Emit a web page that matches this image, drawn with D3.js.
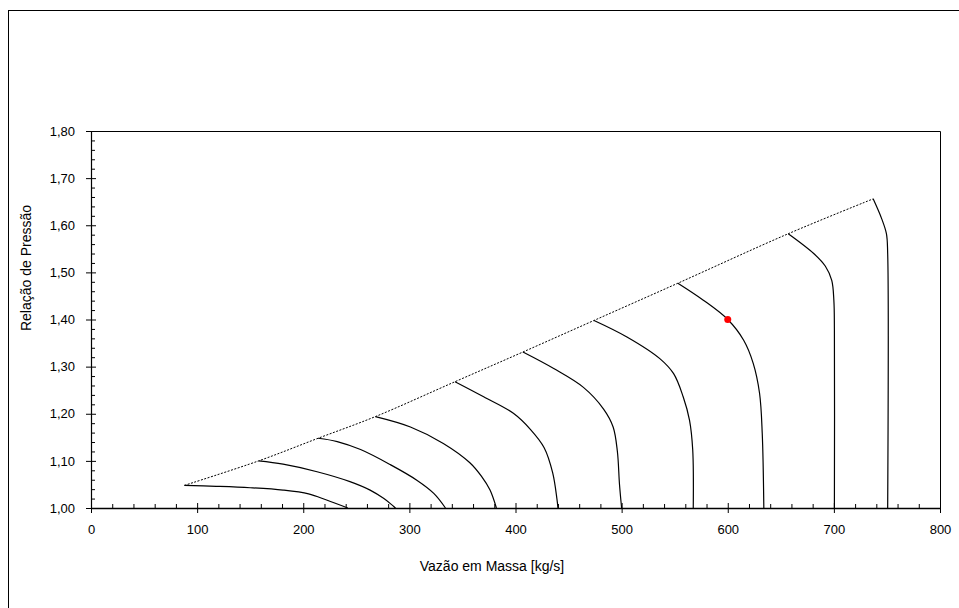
<!DOCTYPE html>
<html>
<head>
<meta charset="utf-8">
<script src="https://cdn.jsdelivr.net/npm/d3@7"></script>
<style>
  html, body { margin: 0; padding: 0; background: #fff; }
  svg { display: block; }
  text { font-family: "Liberation Sans", Arial, sans-serif; fill: #000; }
</style>
</head>
<body>
<svg id="chart" width="959" height="608"></svg>
<script>
// Compressor map: constant-speed lines (mass flow [kg/s] vs pressure ratio)
const speed1 = [[88,1.048],[118,1.046],[150,1.043],[181,1.038],[205,1.030],[222,1.017],[242,1.0]];
const speed2 = [[158,1.100],[181,1.093],[213,1.077],[244,1.056],[263,1.038],[276,1.020],[287,1.0]];
const speed3 = [[214,1.148],[232,1.141],[254,1.124],[282,1.092],[307,1.059],[323,1.031],[334,1.0]];
const speed4 = [[268,1.194],[301,1.172],[332,1.137],[357,1.096],[368,1.067],[376,1.038],[382,1.0]];
const speed5 = [[343,1.268],[370,1.236],[398,1.201],[414,1.167],[427,1.128],[435,1.075],[439,1.020],[440,1.0]];
const speed6 = [[407,1.331],[436,1.296],[464,1.256],[483,1.210],[492,1.172],[496,1.120],[498,1.050],[500,1.0]];
const speed7 = [[474,1.398],[505,1.363],[536,1.317],[549,1.285],[558,1.236],[564,1.186],[567,1.123],[567.5,1.0]];
const speed8 = [[553,1.477],[577,1.441],[600,1.400],[615,1.356],[624,1.307],[630,1.243],[632.5,1.158],[634,1.0]];
const speed9 = [[657,1.582],[681,1.540],[692,1.513],[698,1.483],[700,1.440],[700.5,1.377],[700.5,1.0]];
const speed10 = [[737,1.656],[745,1.614],[749.5,1.582],[750.7,1.540],[750.7,1.0]];
const speedLines = [speed1, speed2, speed3, speed4, speed5, speed6, speed7, speed8, speed9, speed10];

// Surge line joins the first point of every speed line
const surgeLine = speedLines.map(s => s[0]);

// Operating point
const operatingPoint = [[600, 1.40]];

const xTicks = [0, 100, 200, 300, 400, 500, 600, 700, 800];
const yTicks = [1.00, 1.10, 1.20, 1.30, 1.40, 1.50, 1.60, 1.70, 1.80];
const xTitle = "Vazão em Massa [kg/s]";
const yTitle = "Relação de Pressão";

const svg = d3.select("#chart");
const plot = { left: 91, right: 940, top: 131, bottom: 508 };

const x = d3.scaleLinear().domain([0, 800]).range([plot.left, plot.right]);
const y = d3.scaleLinear().domain([1.0, 1.8]).range([plot.bottom, plot.top]);

// outer frame
svg.append("rect")
  .attr("x", 8.5).attr("y", 10.5)
  .attr("width", 960).attr("height", 610)
  .attr("fill", "none").attr("stroke", "#000").attr("stroke-width", 1);

// plot box top/right edges
svg.append("path")
  .attr("d", `M${plot.left},${plot.top + 0.5}H${plot.right + 0.5}V${plot.bottom}`)
  .attr("fill", "none").attr("stroke", "#000").attr("stroke-width", 1);

const fmt = d => d3.format(".2f")(d).replace(".", ",");

// minor ticks (inside)
const xMinor = d3.range(0, 801, 20).filter(v => v % 100 !== 0);
const yMinor = d3.range(1.0, 1.8001, 0.02).filter(v => Math.abs(v * 10 - Math.round(v * 10)) > 1e-6);

svg.append("g").attr("transform", `translate(0,${plot.bottom})`)
  .call(d3.axisBottom(x).tickValues(xMinor).tickSize(-4).tickFormat(""))
  .call(g => g.select(".domain").remove())
  .selectAll("line").attr("stroke", "#000");

svg.append("g").attr("transform", `translate(${plot.left},0)`)
  .call(d3.axisLeft(y).tickValues(yMinor).tickSize(-4).tickFormat(""))
  .call(g => g.select(".domain").remove())
  .selectAll("line").attr("stroke", "#000");

// major axes
const xAxis = svg.append("g").attr("transform", `translate(0,${plot.bottom})`)
  .call(d3.axisBottom(x).tickValues(xTicks).tickSizeOuter(0).tickSizeInner(5).tickPadding(12).tickFormat(d3.format("d")));
xAxis.select(".domain").attr("stroke", "#000").attr("stroke-width", 1.5);
xAxis.selectAll(".tick line").attr("y1", -5).attr("stroke", "#000");
xAxis.selectAll("text").attr("font-size", 13).attr("font-family", "Liberation Sans, Arial, sans-serif");

const yAxis = svg.append("g").attr("transform", `translate(${plot.left},0)`)
  .call(d3.axisLeft(y).tickValues(yTicks).tickSizeOuter(0).tickSizeInner(5).tickPadding(11).tickFormat(fmt));
yAxis.select(".domain").attr("stroke", "#000").attr("stroke-width", 1.2);
yAxis.selectAll(".tick line").attr("x1", 5).attr("stroke", "#000");
yAxis.selectAll("text").attr("font-size", 13).attr("font-family", "Liberation Sans, Arial, sans-serif");

// axis titles
svg.append("text")
  .attr("x", 492).attr("y", 571)
  .attr("text-anchor", "middle").attr("font-size", 14)
  .text(xTitle);

svg.append("text")
  .attr("transform", `translate(31,268) rotate(-90)`)
  .attr("text-anchor", "middle").attr("font-size", 14)
  .text(yTitle);

// data
const line = d3.line()
  .x(d => x(d[0])).y(d => y(d[1]))
  .curve(d3.curveCatmullRom.alpha(0.5));

svg.append("path")
  .datum(surgeLine)
  .attr("d", line)
  .attr("fill", "none").attr("stroke", "#000")
  .attr("stroke-width", 1).attr("stroke-dasharray", "2,1.5");

svg.append("g").selectAll("path")
  .data(speedLines)
  .join("path")
  .attr("d", line)
  .attr("fill", "none").attr("stroke", "#000").attr("stroke-width", 1.2);

svg.append("g").selectAll("circle")
  .data(operatingPoint)
  .join("circle")
  .attr("cx", d => x(d[0])).attr("cy", d => y(d[1]))
  .attr("r", 3.5).attr("fill", "#ff0000");
</script>
</body>
</html>
